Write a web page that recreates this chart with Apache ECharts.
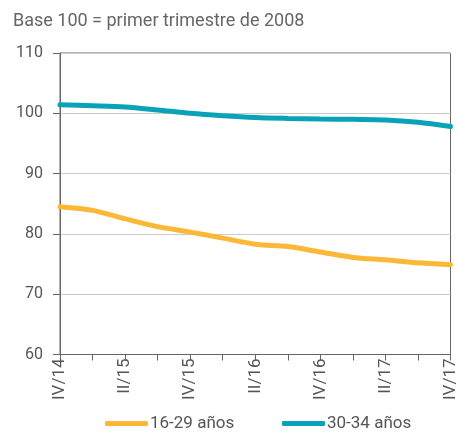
<!DOCTYPE html>
<html lang="es">
<head>
<meta charset="UTF-8">
<title>Base 100</title>
<script src="https://cdn.jsdelivr.net/npm/echarts@6/dist/echarts.min.js"></script>
<style>
  html, body { margin: 0; padding: 0; background: #fff; }
  #chart { width: 459px; height: 433px; }
</style>
</head>
<body>
<div id="chart"></div>
<script type="text/javascript">
// trimestres IV/14 .. IV/17
var quarters = ['IV/14', 'I/15', 'II/15', 'III/15', 'IV/15', 'I/16', 'II/16', 'III/16', 'IV/16', 'I/17', 'II/17', 'III/17', 'IV/17'];
var young = [84.5, 83.9, 82.5, 81.2, 80.3, 79.3, 78.3, 77.9, 77.0, 76.1, 75.7, 75.2, 74.9];
var older = [101.4, 101.25, 101.05, 100.55, 100.0, 99.6, 99.3, 99.15, 99.05, 99.0, 98.9, 98.5, 97.8];
var seriesNames = ['16-29 años', '30-34 años'];
var yTicks = [60, 70, 80, 90, 100, 110];

var chart = echarts.init(document.getElementById('chart'));

// una leyenda por serie, para fijar la posición de cada una
function legendAt(left, name) {
    return {
        top: 410,
        left: left,
        itemWidth: 43,
        itemHeight: 5,
        icon: 'roundRect',
        textStyle: { fontSize: 17, color: '#555', padding: [0, 0, 0, -3] },
        data: [name]
    };
}

chart.setOption({
    animation: false,
    textStyle: { fontFamily: 'Roboto' },
    title: {
        text: 'Base 100 = primer trimestre de 2008',
        left: 8,
        top: 7,
        textStyle: { fontSize: 18, fontWeight: 'normal', color: '#666' }
    },
    grid: {
        left: 60, right: 8, top: 53, bottom: 78.5,
        show: true, borderColor: '#666', borderWidth: 1
    },
    legend: [legendAt(100, seriesNames[0]), legendAt(277, seriesNames[1])],
    xAxis: {
        type: 'category',
        data: quarters,
        boundaryGap: false,
        axisLine: { lineStyle: { color: '#666' } },
        axisTick: { interval: 0, length: 6, lineStyle: { color: '#666' } },
        axisLabel: { interval: 1, rotate: 90, fontSize: 17, color: '#555', margin: 4 },
        splitLine: { show: false }
    },
    yAxis: {
        type: 'value',
        min: yTicks[0],
        max: yTicks[yTicks.length - 1],
        interval: 10,
        axisLine: { show: true, lineStyle: { color: '#666', width: 1 } },
        axisTick: { show: true, inside: false, length: 7, lineStyle: { color: '#666', width: 1 } },
        axisLabel: { fontSize: 16, color: '#555', margin: 17 },
        splitLine: { lineStyle: { color: '#ccc' } }
    },
    series: [
        {
            name: seriesNames[0],
            type: 'line',
            data: young,
            smooth: 0.3,
            symbol: 'none',
            color: '#FBB836',
            lineStyle: { width: 5, color: '#FBB836', cap: 'round' }
        },
        {
            name: seriesNames[1],
            type: 'line',
            data: older,
            smooth: 0.3,
            symbol: 'none',
            color: '#0AA2B9',
            lineStyle: { width: 5, color: '#0AA2B9', cap: 'round' }
        }
    ]
});
</script>
</body>
</html>
